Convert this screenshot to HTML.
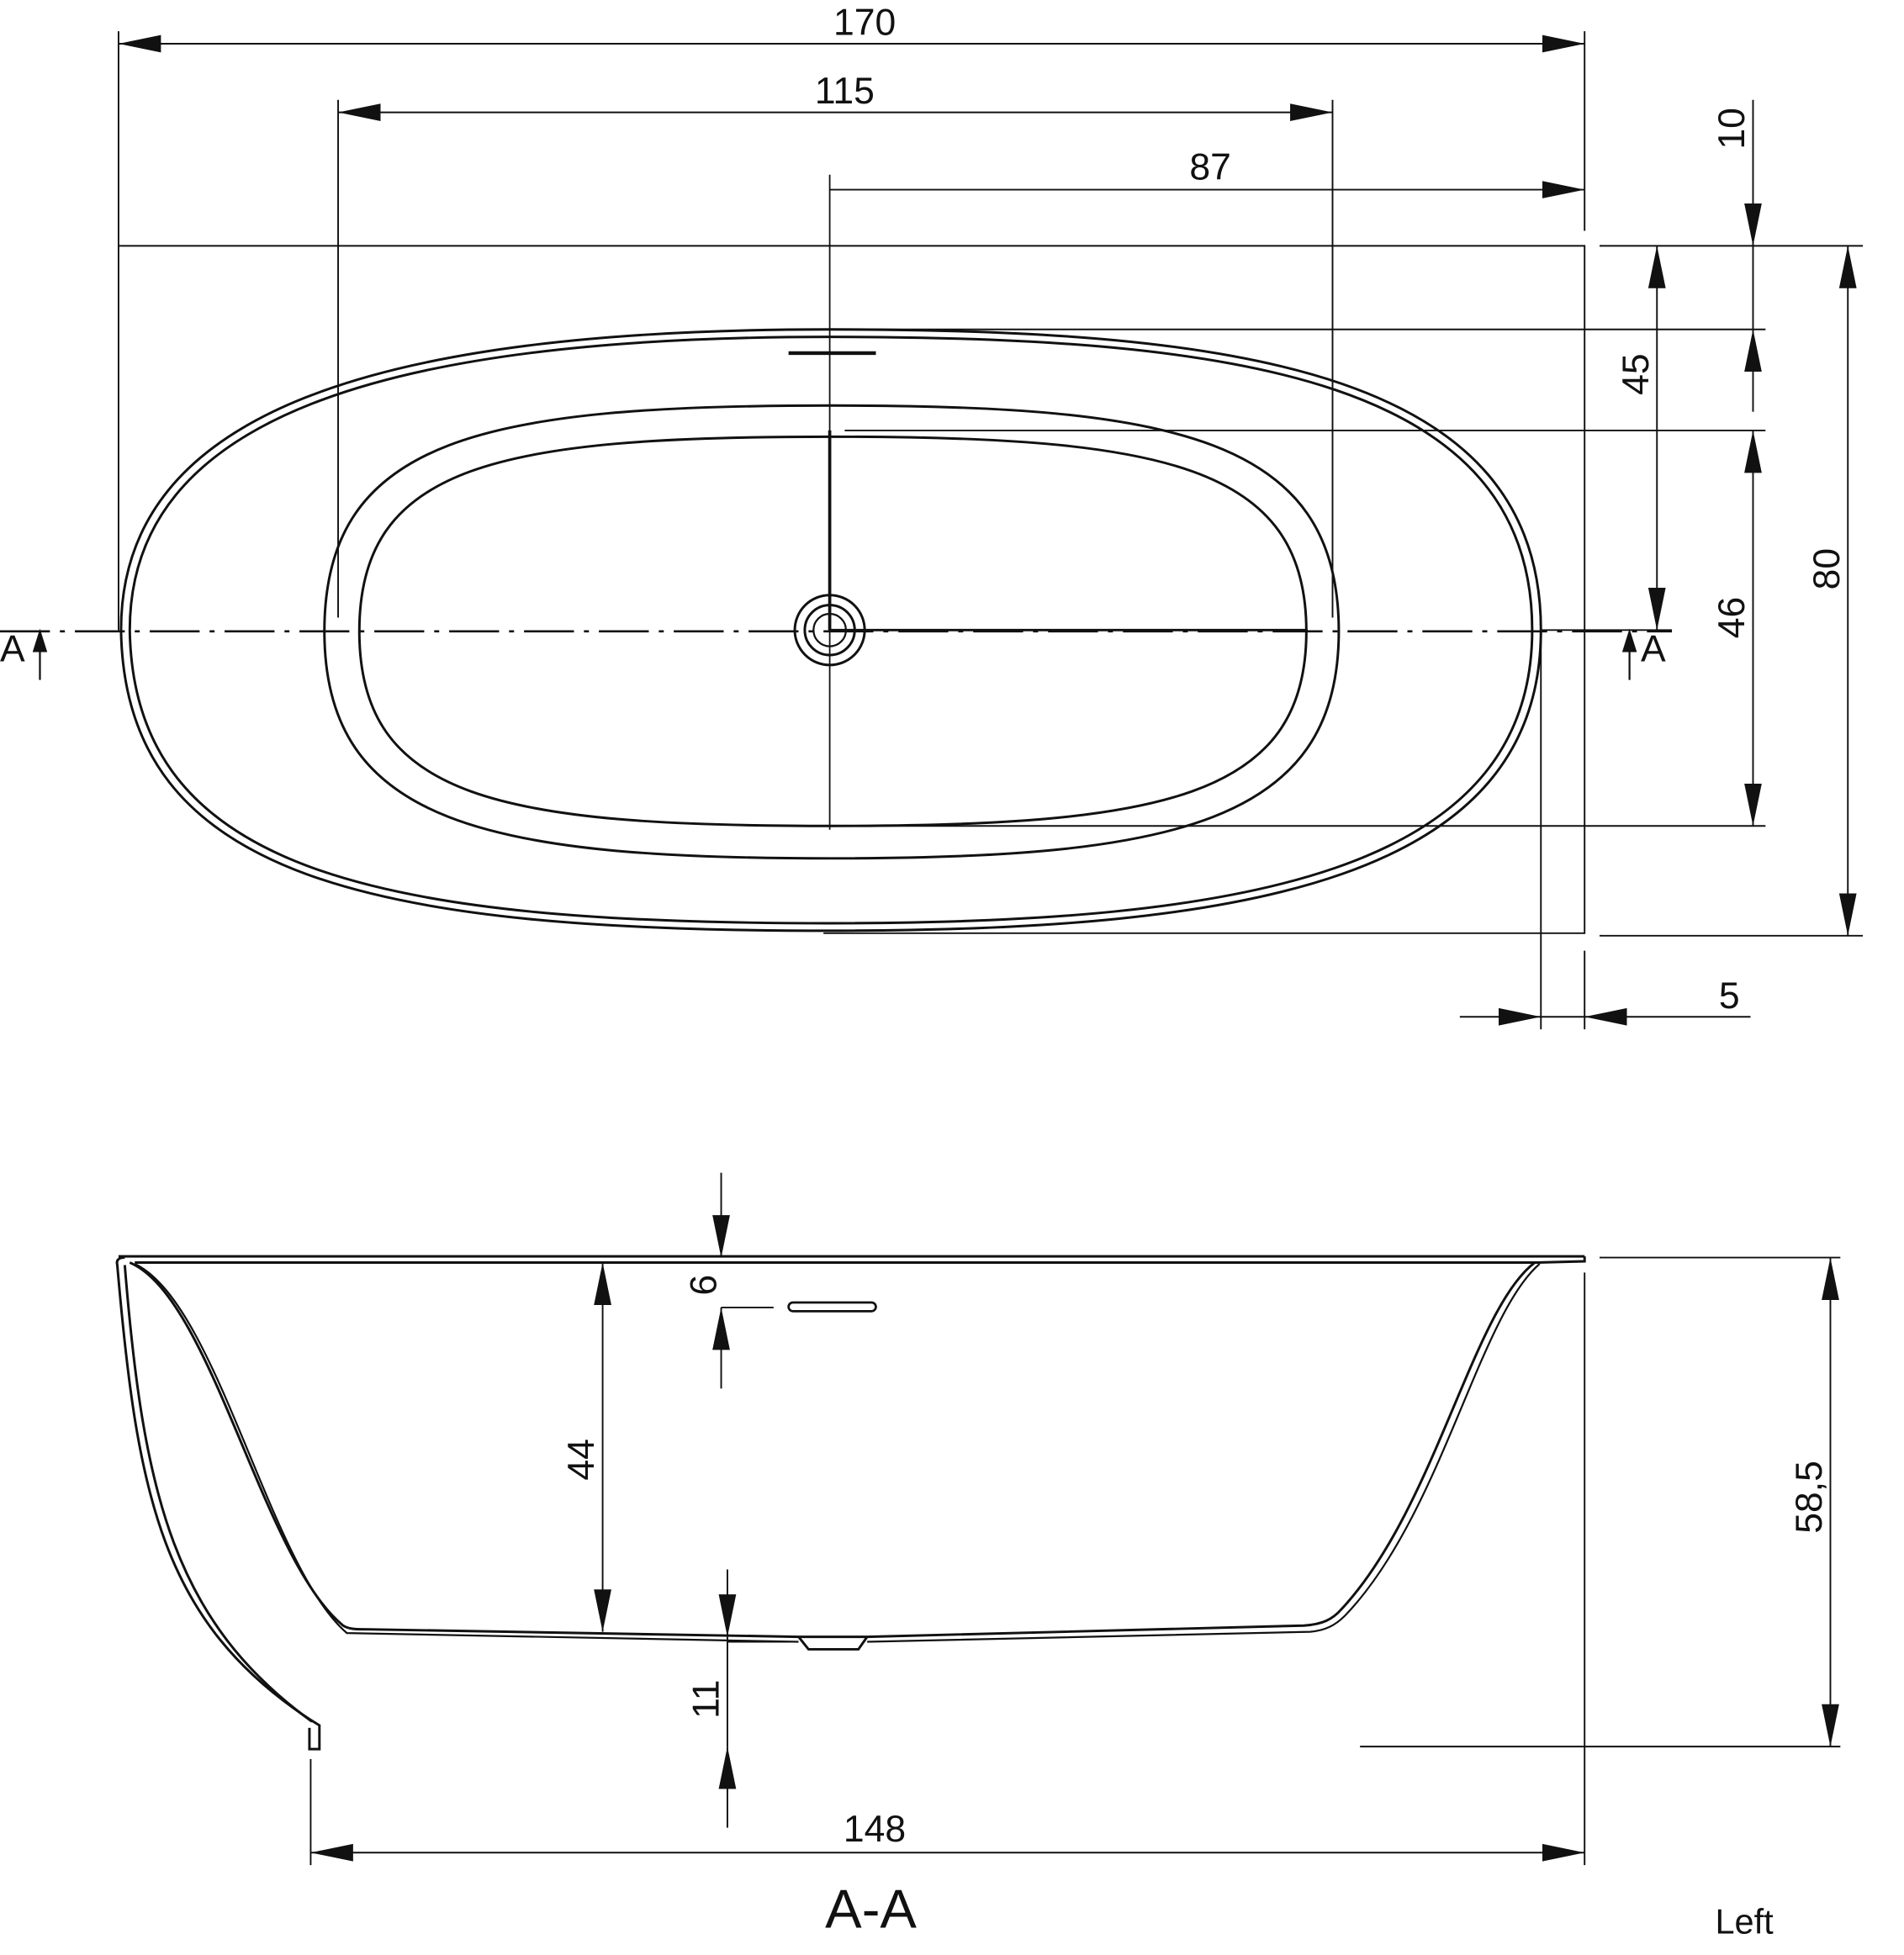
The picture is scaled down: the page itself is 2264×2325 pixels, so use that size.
<!DOCTYPE html>
<html><head><meta charset="utf-8"><style>
html,body{margin:0;padding:0;background:#fff;}
svg{display:block;}
text{font-family:"Liberation Sans",sans-serif;fill:#111;}
</style></head><body>
<svg width="2264" height="2325" viewBox="0 0 1526 1567" xmlns="http://www.w3.org/2000/svg">
<defs>
<marker id="ar" markerUnits="userSpaceOnUse" markerWidth="36" markerHeight="16" refX="34" refY="8" orient="auto-start-reverse">
<path d="M0,1 L34,8 L0,15 Z" fill="#111"/></marker>
</defs>
<g fill="none" stroke="#111" stroke-width="1.3">
<path d="M95,505 L95,197 L1270,197 L1270,748 L660,748"/>
<path d="M665,264 C1000,264 1235,300 1235,505 C1235,705 1000,746 665,746 C300,746 100,705 97,505 C97,330 300,264 665,264 Z" stroke-width="2"/>
<path d="M665,270 C995,270 1228,305 1228,505 C1228,700 995,740 665,740 C305,740 107,700 104,505 C104,335 305,270 665,270 Z" stroke-width="2"/>
<path d="M666,325 C940,325 1073,350 1073,506 C1073,660 940,688 666,688 C390,688 260,660 260,506 C260,350 390,325 666,325 Z" stroke-width="2"/>
<path d="M666,350 C930,350 1047,372 1047,506 C1047,640 930,662 666,662 C400,662 288,640 288,506 C288,372 400,350 666,350 Z" stroke-width="2"/>
<circle cx="665" cy="505" r="28" stroke-width="2"/>
<circle cx="665" cy="505" r="20" stroke-width="2"/>
<circle cx="665" cy="505" r="13" stroke-width="1.5"/>
<path d="M632,283 L702,283" stroke-width="3"/>
<path d="M665,140 L665,665" stroke-width="1.2"/>
<path d="M665,345 L665,505" stroke-width="2.5"/>
<path d="M0,506 L1340,506" stroke-width="1.8" stroke-dasharray="40,8,4,8"/>
<path d="M665,505 L1048,505" stroke-width="2"/>
<path d="M95,25 L95,197 M1270,25 L1270,185 M271,80 L271,495 M1068,80 L1068,495"/>
<path d="M1282,197 L1493,197 M665,264 L1415,264 M677,345 L1415,345 M1236,505 L1340,505 M677,662 L1415,662 M1282,750 L1493,750"/>
<path d="M1235,505 L1235,825 M1270,762 L1270,825"/>
<path d="M95,35 L1270,35" marker-start="url(#ar)" marker-end="url(#ar)"/>
<path d="M271,90 L1068,90" marker-start="url(#ar)" marker-end="url(#ar)"/>
<path d="M665,152 L1270,152" marker-end="url(#ar)"/>
<path d="M1405,80 L1405,197" marker-end="url(#ar)"/>
<path d="M1405,197 L1405,264"/>
<path d="M1405,330 L1405,264" marker-end="url(#ar)"/>
<path d="M1328,197 L1328,505" marker-start="url(#ar)" marker-end="url(#ar)"/>
<path d="M1405,345 L1405,662" marker-start="url(#ar)" marker-end="url(#ar)"/>
<path d="M1481,197 L1481,750" marker-start="url(#ar)" marker-end="url(#ar)"/>
<path d="M1170,815 L1235,815" marker-end="url(#ar)"/>
<path d="M1403,815 L1270,815" marker-end="url(#ar)"/>
<path d="M1235,815 L1270,815"/>
<path d="M32,545 L32,508 M1306,545 L1306,508" stroke-width="1.5"/>
<path d="M27,522 L32,506 L37,522 Z M1301,522 L1306,506 L1311,522 Z" fill="#111"/>

<path d="M95,1007 L1270,1007 M1270,1007 L1270,1011 L1232,1012 M108,1012 L1232,1012" stroke-width="2"/>
<path d="M100,1008 C95,1008 93,1010 94,1014 C110,1200 130,1300 248,1378 L256,1383 L256,1402 L248,1402 L248,1385" stroke-width="2"/>
<path d="M100,1014 C115,1200 140,1300 250,1380" stroke-width="2"/>
<path d="M104,1012 C170,1040 210,1250 275,1303 C280,1306 285,1306 295,1306 L640,1312 L695,1312 L1045,1303 C1060,1302 1068,1298 1075,1290 C1150,1210 1180,1050 1230,1012" stroke-width="2"/>
<path d="M108,1013 C175,1045 215,1255 278,1309 L640,1316 M695,1316 L1050,1308 C1062,1307 1070,1303 1078,1295 C1155,1215 1185,1055 1234,1013" stroke-width="1.5"/>
<path d="M640,1312 L648,1322 L688,1322 L695,1312" stroke-width="2"/>
<rect x="632" y="1044" width="70" height="7" rx="3.5" stroke-width="1.8"/>
<path d="M578,940 L578,1008" marker-end="url(#ar)"/>
<path d="M578,1113 L578,1048" marker-end="url(#ar)"/>
<path d="M578,1048 L620,1048"/>
<path d="M483,1012 L483,1308" marker-start="url(#ar)" marker-end="url(#ar)"/>
<path d="M583,1258 L583,1312" marker-end="url(#ar)"/>
<path d="M583,1316 L635,1316"/>
<path d="M583,1312 L583,1400"/>
<path d="M583,1465 L583,1400" marker-end="url(#ar)"/>
<path d="M1282,1008 L1475,1008 M1090,1400 L1475,1400"/>
<path d="M1467,1008 L1467,1400" marker-start="url(#ar)" marker-end="url(#ar)"/>
<path d="M249,1410 L249,1495 M1270,1020 L1270,1495"/>
<path d="M249,1485 L1270,1485" marker-start="url(#ar)" marker-end="url(#ar)"/>
</g>
<g font-size="30">
<text x="693" y="28" text-anchor="middle">170</text>
<text x="677" y="83" text-anchor="middle">115</text>
<text x="970" y="144" text-anchor="middle">87</text>
<text x="1386" y="808" text-anchor="middle">5</text>
<text x="0" y="530">A</text>
<text x="1315" y="530">A</text>
<text transform="translate(1398,103) rotate(-90)" text-anchor="middle">10</text>
<text transform="translate(1321,300) rotate(-90)" text-anchor="middle">45</text>
<text transform="translate(1398,495) rotate(-90)" text-anchor="middle">46</text>
<text transform="translate(1474,456) rotate(-90)" text-anchor="middle">80</text>
<text transform="translate(574,1030) rotate(-90)" text-anchor="middle">6</text>
<text transform="translate(476,1170) rotate(-90)" text-anchor="middle">44</text>
<text transform="translate(576,1362) rotate(-90)" text-anchor="middle">11</text>
<text transform="translate(1460,1200) rotate(-90)" text-anchor="middle">58,5</text>
<text x="701" y="1476" text-anchor="middle">148</text>
</g>
<text x="698" y="1545" font-size="44" text-anchor="middle">A-A</text>
<text x="1398" y="1550" font-size="28" text-anchor="middle">Left</text>
</svg>
</body></html>
